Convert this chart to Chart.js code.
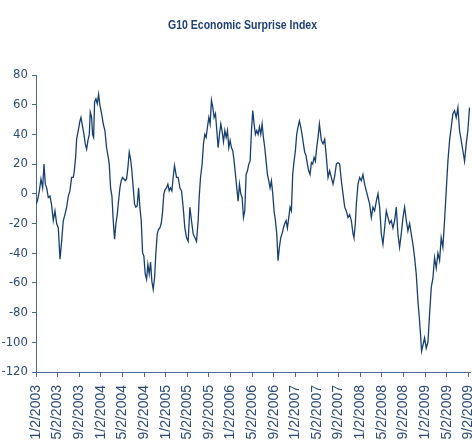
<!DOCTYPE html>
<html>
<head>
<meta charset="utf-8">
<script src="https://cdn.jsdelivr.net/npm/chart.js@4/dist/chart.umd.min.js"></script>
<style>
html,body{margin:0;padding:0;background:#fff;overflow:hidden;width:472px;height:441px}
#wrap{position:relative;width:472px;height:441px}
canvas{display:block}
</style>
</head>
<body>
<div id="wrap"><canvas id="c" width="472" height="441"></canvas></div>
<script>
const chartTitle = "G10 Economic Surprise Index";

const tickLabels = [
  "1/2/2003","5/2/2003","9/2/2003","1/2/2004","5/2/2004","9/2/2004",
  "1/2/2005","5/2/2005","9/2/2005","1/2/2006","5/2/2006","9/2/2006",
  "1/2/2007","5/2/2007","9/2/2007","1/2/2008","5/2/2008","9/2/2008",
  "1/2/2009","5/2/2009","9/2/2009"
];

// months elapsed since 1/2/2003
const months = [
  0.00,0.25,0.62,0.92,1.23,1.48,1.72,1.97,2.28,2.59,2.90,3.20,3.51,3.82,4.13,4.44,4.74,5.05,5.36,5.67,
  5.98,6.28,6.59,6.90,7.09,7.33,7.52,7.82,8.13,8.32,8.63,8.87,9.12,9.37,9.61,9.86,10.04,10.29,10.47,10.66,
  10.84,11.09,11.34,11.58,11.83,12.14,12.45,12.75,13.06,13.37,13.55,13.80,14.05,14.29,14.54,14.79,15.03,15.28,15.53,15.77,
  16.02,16.27,16.51,16.76,17.01,17.25,17.50,17.74,17.99,18.24,18.48,18.73,18.98,19.22,19.47,19.72,19.96,20.21,20.46,20.70,
  20.95,21.20,21.44,21.69,21.94,22.18,22.43,22.67,22.92,23.17,23.41,23.66,23.91,24.15,24.40,24.65,24.89,25.14,25.38,25.63,
  26.00,26.31,26.62,26.93,27.23,27.54,27.85,28.16,28.47,28.77,29.08,29.39,29.70,30.01,30.19,30.44,30.74,30.99,31.24,31.48,
  31.73,31.98,32.22,32.47,32.72,32.96,33.21,33.46,33.70,33.95,34.20,34.44,34.69,34.94,35.18,35.43,35.67,35.92,36.17,36.41,
  36.66,36.91,37.15,37.40,37.65,37.89,38.14,38.39,38.63,38.88,39.13,39.37,39.62,39.87,40.11,40.36,40.60,40.85,41.10,41.34,
  41.59,41.84,42.08,42.33,42.58,42.82,43.07,43.31,43.56,43.81,44.05,44.30,44.55,44.79,45.04,45.29,45.53,45.78,46.03,46.27,
  46.52,46.77,47.01,47.26,47.50,47.75,48.00,48.24,48.49,48.74,48.98,49.23,49.48,49.72,49.97,50.22,50.46,50.71,50.96,51.20,
  51.45,51.70,51.94,52.19,52.44,52.80,53.11,53.42,53.73,54.04,54.34,54.65,54.96,55.27,55.58,55.88,56.19,56.50,56.81,57.12,
  57.42,57.73,58.04,58.35,58.66,58.84,59.09,59.27,59.58,59.89,60.20,60.50,60.81,61.12,61.43,61.74,62.05,62.35,62.66,62.97,
  63.28,63.59,63.90,64.20,64.51,64.82,65.13,65.43,65.74,66.05,66.36,66.67,66.97,67.28,67.59,67.90,68.21,68.52,68.82,69.13,
  69.44,69.75,70.06,70.36,70.67,70.98,71.16,71.35,71.60,71.90,72.21,72.52,72.83,73.14,73.44,73.75,74.06,74.37,74.68,74.98,
  75.29,75.60,75.91,76.22,76.53,76.84,77.14,77.45,77.76,78.07,78.37,78.68,78.99,79.30,79.61,79.91,80.22
];

const values = [
  -7,-5,2,10,4,20,6.5,4,-2.5,-1.5,-8,-18,-11.5,-20,-23,-44,-32,-18,-14,-9,
  -1.5,2,11,11,15.5,24.5,37,42.6,49,51.4,45,40,33.6,30,36,40,55,51.4,40,38,
  61.7,64,60.6,67,59.5,54,47,42.6,31,24.5,20,4,-1.5,-18,-30.6,-20,-14,-4.7,4,8.8,
  11,10,8.8,10,17.8,28,23.4,15.5,4,-7,-9,-8,4,-9,-18,-39.6,-42,-54,-57.6,-47.5,
  -54,-46,-59,-64.4,-56.5,-40,-27,-24,-23,-20,-12.5,0,3,4,6.5,2,4,2,11,19,
  11,11,4,2,-9,-23,-29.5,-32,-9,-18,-27,-29.5,-32,-18,-2.7,11,20,33.6,40,38,
  45,51.4,47,63,58,51.4,54,42.6,31,40,47,42,35,42.6,38,42.6,31,36,31,29,
  22,13,4,-5,6.5,0,-2.5,-16,-11.5,13,15.5,20,22,42.6,56,47,40,42.6,40,45,
  40,47,38,31,22,13,8.8,4,8.8,0,-11.5,-18,-27,-45,-36,-29.5,-27,-23,-20,-18,
  -23,-16,-9,-11.5,13,22,29,40,45,49,45,40,33.6,28,25.7,20,15.5,13,21,20,
  24.5,22,31,38,47,36,33.6,36.7,24.5,11,15.5,11,6.5,12,20,21,20,8.8,0,-9,
  -11.5,-16,-14,-18,-27,-29.5,-20,-7,6.5,11,8.8,13,6.5,2,-2.5,-7,-16,-9,-11.5,-5,
  0,-9,-27,-34,-23,-11.5,-16,-20,-18,-23,-18,-9,-27,-36,-27,-16,-9,-18,-25,-20,
  -27,-34,-43,-54,-72,-86,-95,-106,-102,-97,-104,-100,-81,-63,-57,-43,-50,-40,-45,-29.5,
  -36,-18,2,22,36,45,54,56,51.4,58,42.6,36,29,22,33.6,42.6,58
];

const navy = '#17406f';
const axisColor = '#4a6890';
const labelColor = '#2e4b78';
const condensed = "'DejaVu Sans Condensed', 'Liberation Sans', sans-serif";
const regular = "'Liberation Sans', Arial, sans-serif";

const points = months.map((m, i) => ({ x: m, y: values[i] }));

// Condensed title drawn as canvas text (horizontally compressed like the original)
const condensedTitle = {
  id: 'condensedTitle',
  afterDraw(chart) {
    const ctx = chart.ctx;
    ctx.save();
    ctx.font = "bold 13px 'Liberation Sans', Arial, sans-serif";
    ctx.fillStyle = '#1f3f73';
    ctx.textBaseline = 'alphabetic';
    ctx.textAlign = 'center';
    const w = ctx.measureText(chartTitle).width;
    const sx = 149 / w;
    ctx.translate(242.5, 29);
    ctx.scale(sx, 1);
    ctx.fillText(chartTitle, 0, 0);
    ctx.restore();
  }
};

new Chart(document.getElementById('c').getContext('2d'), {
  type: 'line',
  data: {
    datasets: [{
      data: points,
      borderColor: navy,
      borderWidth: 1.3,
      pointRadius: 0,
      tension: 0,
      fill: false
    }]
  },
  plugins: [condensedTitle],
  options: {
    responsive: false,
    animation: false,
    layout: { padding: { left: 0, right: 1.5, top: 75, bottom: 0 } },
    plugins: {
      legend: { display: false },
      tooltip: { enabled: false },
      title: { display: false }
    },
    scales: {
      x: {
        type: 'linear',
        min: 0,
        max: 80.4,
        afterBuildTicks: s => { s.ticks = tickLabels.map((_, i) => ({ value: i * 4 })); },
        ticks: {
          autoSkip: false,
          maxRotation: 90,
          minRotation: 90,
          padding: 8,
          color: labelColor,
          font: { family: regular, size: 14 },
          callback: v => tickLabels[Math.round(v / 4)]
        },
        grid: { drawOnChartArea: false, drawTicks: true, tickLength: 5, color: axisColor },
        border: { display: true, color: axisColor, width: 1 },
        afterFit: s => { s.height = 69; s.paddingLeft = 0; s.paddingRight = 0; }
      },
      y: {
        min: -120,
        max: 80,
        ticks: {
          stepSize: 20,
          padding: 4,
          color: labelColor,
          font: { family: condensed, size: 13 }
        },
        grid: { drawOnChartArea: false, drawTicks: true, tickLength: 4, color: axisColor },
        border: { display: true, color: axisColor, width: 1 },
        afterFit: s => { s.width = 36; s.paddingTop = 0; s.paddingBottom = 0; }
      }
    }
  }
});
</script>
</body>
</html>
